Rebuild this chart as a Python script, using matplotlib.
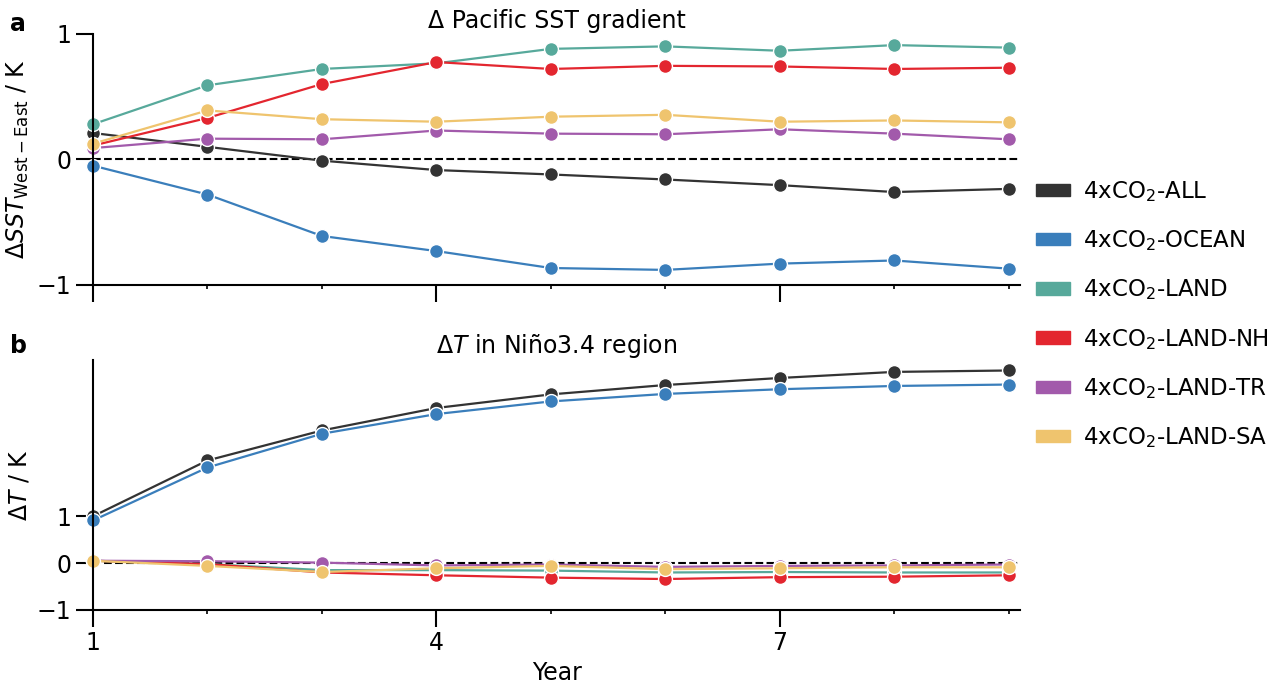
import numpy as np
import matplotlib
matplotlib.use("Agg")
import matplotlib.pyplot as plt
from matplotlib.patches import Patch

# years
years = np.arange(1, 10)

# experiment names and colours
labels = ["4xCO$_2$-ALL", "4xCO$_2$-OCEAN", "4xCO$_2$-LAND",
          "4xCO$_2$-LAND-NH", "4xCO$_2$-LAND-TR", "4xCO$_2$-LAND-SA"]
colors = ["#333333", "#3a7ebb", "#57a99b", "#e3262f", "#a25aab", "#efc46e"]

# panel a: Pacific SST gradient (K)
grad_all = [0.21, 0.10, -0.01, -0.085, -0.12, -0.16, -0.205, -0.26, -0.235]
grad_ocean = [-0.05, -0.28, -0.61, -0.73, -0.865, -0.88, -0.83, -0.805, -0.87]
grad_land = [0.28, 0.59, 0.72, 0.765, 0.88, 0.90, 0.865, 0.91, 0.89]
grad_nh = [0.11, 0.33, 0.60, 0.775, 0.72, 0.745, 0.74, 0.72, 0.73]
grad_tr = [0.09, 0.165, 0.16, 0.23, 0.205, 0.20, 0.24, 0.205, 0.16]
grad_sa = [0.125, 0.39, 0.32, 0.30, 0.34, 0.355, 0.30, 0.31, 0.295]

# panel b: temperature change in Nino3.4 (K)
nino_all = [1.00, 2.19, 2.83, 3.31, 3.60, 3.80, 3.95, 4.08, 4.11]
nino_ocean = [0.91, 2.04, 2.76, 3.18, 3.45, 3.61, 3.71, 3.78, 3.81]
nino_land = [0.05, -0.02, -0.15, -0.15, -0.16, -0.20, -0.19, -0.20, -0.20]
nino_nh = [0.05, -0.02, -0.20, -0.26, -0.31, -0.34, -0.30, -0.29, -0.26]
nino_tr = [0.05, 0.04, 0.01, -0.05, -0.03, -0.08, -0.06, -0.05, -0.03]
nino_sa = [0.05, -0.06, -0.19, -0.11, -0.06, -0.13, -0.11, -0.09, -0.09]

grad = [grad_all, grad_ocean, grad_land, grad_nh, grad_tr, grad_sa]
nino = [nino_all, nino_ocean, nino_land, nino_nh, nino_tr, nino_sa]

plt.rcParams["font.size"] = 17

fig = plt.figure(figsize=(12.78, 6.9), dpi=100)
ax1 = fig.add_axes([0.0728, 0.587, 0.7254, 0.364])
ax2 = fig.add_axes([0.0728, 0.116, 0.7254, 0.362])


def draw(ax, series):
    for vals, c in zip(series, colors):
        ax.plot(years, vals, color=c, lw=1.6, marker="o", ms=10,
                mec="white", mew=1.0, clip_on=False)
    ax.axhline(0, color="black", lw=1.5, ls="--", zorder=0.5)
    ax.set_xlim(1, 9.1)
    ax.set_xticks([1, 4, 7])
    ax.set_xticks(years, minor=True)
    ax.tick_params(axis="both", which="major", length=12, width=1.5)
    ax.tick_params(axis="x", which="minor", length=3, width=1.2)
    for s in ["top", "right"]:
        ax.spines[s].set_visible(False)
    for s in ["left", "bottom"]:
        ax.spines[s].set_linewidth(1.5)


draw(ax1, grad)
ax1.set_ylim(-1, 1)
ax1.set_yticks([-1, 0, 1])
ax1.set_xticklabels([])
ax1.set_title("Δ Pacific SST gradient", fontsize=17, pad=4)
ax1.set_ylabel(r"$\Delta SST_{\mathrm{West-East}}$ / K")

draw(ax2, nino)
ax2.set_ylim(-1, 4.33)
ax2.set_yticks([-1, 0, 1])
ax2.set_title(r"$\Delta T$ in Niño3.4 region", fontsize=17, pad=4)
ax2.set_ylabel(r"$\Delta T$ / K")
ax2.set_xlabel("Year")

fig.text(0.008, 0.965, "a", fontsize=17, fontweight="bold", va="center")
fig.text(0.008, 0.498, "b", fontsize=17, fontweight="bold", va="center")

handles = [Patch(color=c, label=l) for c, l in zip(colors, labels)]
fig.legend(handles=handles, loc="center left", bbox_to_anchor=(0.811, 0.544),
           frameon=False, borderpad=0, borderaxespad=0,
           handlelength=1.45, handleheight=0.45, handletextpad=0.57,
           labelspacing=1.06, fontsize=16.5)

fig.savefig("out.png", dpi=100)
